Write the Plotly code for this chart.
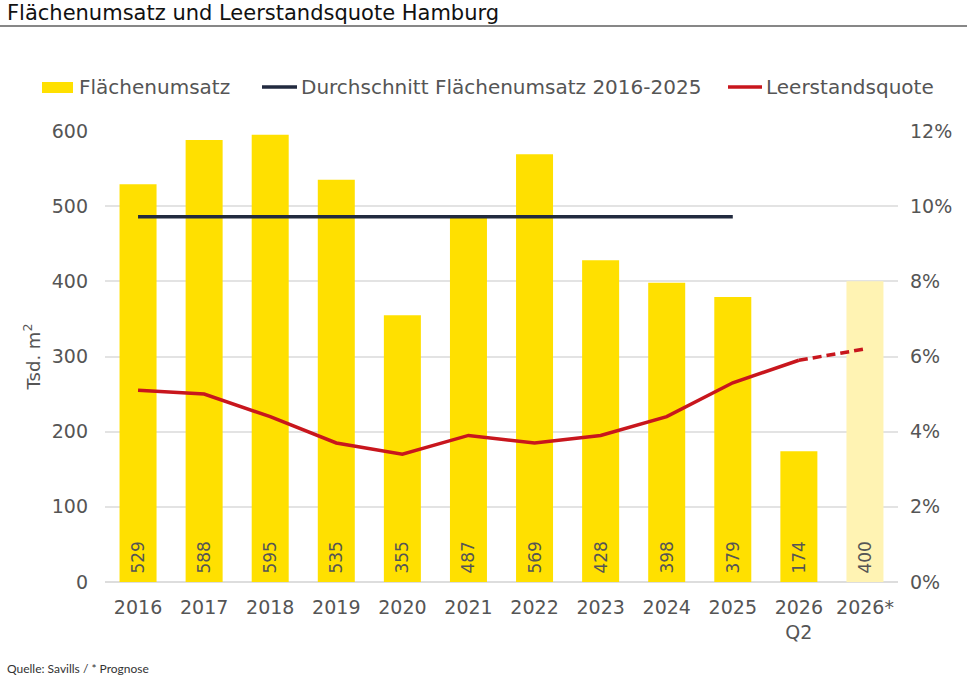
import plotly.graph_objects as go

categories = ["2016", "2017", "2018", "2019", "2020", "2021", "2022", "2023", "2024", "2025", "2026<br>Q2", "2026*"]
flaechenumsatz = [529, 588, 595, 535, 355, 487, 569, 428, 398, 379, 174, 400]
leerstand = [5.1, 5.0, 4.4, 3.7, 3.4, 3.9, 3.7, 3.9, 4.4, 5.3, 5.9, 6.2]
avg_years = categories[:10]
avg_value = 486

series_names = ["Flächenumsatz", "Durchschnitt Flächenumsatz 2016-2025", "Leerstandsquote"]
bar_color, bar_color_forecast = "#FFE000", "#FFF3B3"
avg_color, rate_color = "#222A3F", "#C8161D"
bar_colors = [bar_color] * 11 + [bar_color_forecast]
font_fam = "'DejaVu Sans', sans-serif"
grey = "#555555"

fig = go.Figure()
fig.add_trace(go.Bar(
    x=categories, y=flaechenumsatz, name=series_names[0],
    marker=dict(color=bar_colors, line=dict(width=0)),
    text=["\u00a0" + str(v) for v in flaechenumsatz], textposition="inside",
    insidetextanchor="start", textangle=-90,
    textfont=dict(color=grey, size=17, family=font_fam),
    width=0.56, showlegend=False,
))
fig.add_trace(go.Scatter(
    x=avg_years, y=[avg_value] * len(avg_years), mode="lines",
    name=series_names[1], showlegend=False,
    line=dict(color=avg_color, width=3.5),
))
fig.add_trace(go.Scatter(
    x=categories[:11], y=leerstand[:11], mode="lines", name=series_names[2],
    line=dict(color=rate_color, width=3.5), yaxis="y2", showlegend=False,
))
fig.add_trace(go.Scatter(
    x=categories[10:], y=leerstand[10:], mode="lines", showlegend=False,
    line=dict(color=rate_color, width=3.5, dash="9px,5px"), yaxis="y2",
))

L, R, T, B = 105, 69, 131, 96
W, H = 967, 678
pw, ph = W - L - R, H - T - B


def px(x):
    return (x - L) / pw


def py(y):
    return (H - B - y) / ph


# manual legend (layout decoration, not data)
leg_y = 87
shapes = [
    dict(type="line", xref="paper", yref="paper",
         x0=px(0), x1=px(W), y0=py(26), y1=py(26),
         line=dict(color="#111111", width=1.2)),
    dict(type="rect", xref="paper", yref="paper",
         x0=px(42), x1=px(73), y0=py(82), y1=py(93),
         fillcolor=bar_color, line=dict(width=0)),
    dict(type="line", xref="paper", yref="paper",
         x0=px(262), x1=px(297), y0=py(leg_y), y1=py(leg_y),
         line=dict(color=avg_color, width=3.5)),
    dict(type="line", xref="paper", yref="paper",
         x0=px(728), x1=px(762), y0=py(leg_y), y1=py(leg_y),
         line=dict(color=rate_color, width=3.5)),
]
annotations = [
    dict(text="Flächenumsatz und Leerstandsquote Hamburg", xref="paper", yref="paper",
         x=px(5), y=py(13), xanchor="left", yanchor="middle",
         showarrow=False, font=dict(size=21, color="#111111", family=font_fam)),
    dict(text="Quelle: Savills / * Prognose", xref="paper", yref="paper",
         x=px(5), y=py(668), xanchor="left", yanchor="middle",
         showarrow=False, font=dict(size=12, color="#333333", family="Lato, sans-serif")),
]
for name, x0 in zip(series_names, [77, 299, 764]):
    annotations.append(dict(text=name, xref="paper", yref="paper", x=px(x0), y=py(leg_y),
                            xanchor="left", yanchor="middle", showarrow=False,
                            font=dict(size=20, color=grey, family=font_fam)))

fig.update_layout(
    width=W, height=H,
    margin=dict(l=L, r=R, t=T, b=B),
    paper_bgcolor="white", plot_bgcolor="white",
    font=dict(family=font_fam, color=grey, size=17),
    showlegend=False,
    bargap=0.44,
    xaxis=dict(type="category", showgrid=False, ticks="",
               tickfont=dict(size=19, color=grey), showline=False,
               ticklabelstandoff=12),
    yaxis=dict(range=[0, 600], dtick=100, showgrid=True, gridcolor="#e3e3e3",
               gridwidth=1.5, zeroline=True, zerolinecolor="#dddddd", zerolinewidth=1.5,
               tickfont=dict(size=19, color=grey), ticklabelstandoff=16,
               title=dict(text="Tsd. m<sup>2</sup>", font=dict(size=18, color=grey), standoff=6)),
    yaxis2=dict(range=[0, 12], dtick=2, overlaying="y", side="right",
                ticksuffix="%", showgrid=False, zeroline=False,
                tickfont=dict(size=19, color=grey), ticklabelstandoff=11),
    annotations=annotations,
    shapes=shapes,
)

fig.write_html("out.html")
